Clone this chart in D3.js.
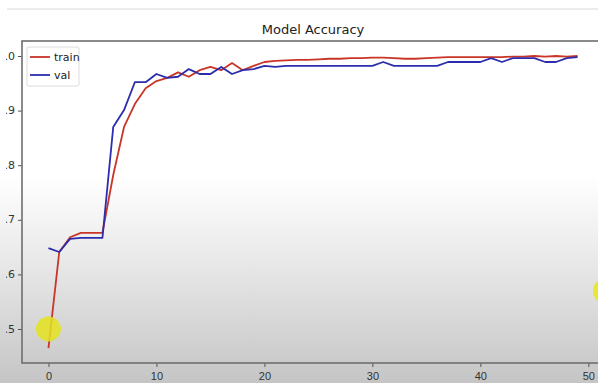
<!DOCTYPE html>
<html>
<head>
<meta charset="utf-8">
<script src="https://cdn.jsdelivr.net/npm/d3@7"></script>
<style>
  body { margin: 0; overflow: hidden; }
  svg { display: block; font-family: "DejaVu Sans", sans-serif; }
</style>
</head>
<body>
<div id="chart"></div>
<script>
// accuracy per epoch
var trainAcc = [0.465, 0.641, 0.668, 0.676, 0.676, 0.676, 0.782, 0.870, 0.912, 0.941,
                0.954, 0.960, 0.970, 0.962, 0.974, 0.980, 0.974, 0.987, 0.974, 0.982,
                0.989, 0.991, 0.992, 0.993, 0.993, 0.994, 0.995, 0.995, 0.996, 0.996,
                0.997, 0.997, 0.996, 0.995, 0.995, 0.996, 0.997, 0.998, 0.998, 0.998,
                0.998, 0.998, 0.998, 0.999, 0.999, 1.000, 0.999, 1.000, 0.999, 1.000]
var valAcc = [0.648, 0.641, 0.665, 0.667, 0.667, 0.667, 0.870, 0.901, 0.952, 0.952,
              0.967, 0.960, 0.962, 0.976, 0.967, 0.967, 0.980, 0.967, 0.974, 0.976,
              0.982, 0.980, 0.982, 0.982, 0.982, 0.982, 0.982, 0.982, 0.982, 0.982,
              0.982, 0.989, 0.982, 0.982, 0.982, 0.982, 0.982, 0.989, 0.989, 0.989,
              0.989, 0.996, 0.989, 0.996, 0.996, 0.996, 0.989, 0.989, 0.996, 0.998]
var xTicks = [0, 10, 20, 30, 40, 50]
var yTicks = [0.5, 0.6, 0.7, 0.8, 0.9, 1.0]
var seriesNames = ['train', 'val']
var seriesColors = ['#c93526', '#2c2cae']

var W = 598, H = 383
var plot = {left: 22, right: 604, top: 41, bottom: 363}

var svg = d3.select('#chart').append('svg')
    .attr('width', W)
    .attr('height', H)

// background, fading to grey at the bottom like the screenshot
var defs = svg.append('defs')
var grad = defs.append('linearGradient')
    .attr('id', 'bg').attr('x1', 0).attr('y1', 0).attr('x2', 0).attr('y2', 1)
grad.append('stop').attr('offset', '0%').attr('stop-color', '#ffffff')
grad.append('stop').attr('offset', '46%').attr('stop-color', '#ffffff')
grad.append('stop').attr('offset', '66%').attr('stop-color', '#ebebeb')
grad.append('stop').attr('offset', '100%').attr('stop-color', '#c5c5c5')

// the screenshot cuts the y labels on the left
defs.append('clipPath').attr('id', 'ylabclip')
    .append('rect').attr('x', 6).attr('y', 0).attr('width', 20).attr('height', H)

svg.append('rect')
    .attr('width', W).attr('height', H)
    .attr('fill', 'url(#bg)')

svg.append('line')
    .attr('x1', 7).attr('x2', W).attr('y1', 9).attr('y2', 9)
    .attr('stroke', '#e6e6e6').attr('stroke-width', 1.5)

// Scales
var xScale = d3.scaleLinear()
    .domain([-2.45, 51.45])
    .range([plot.left, plot.right])

var yScale = d3.scaleLinear()
    .domain([0.5, 1.0])
    .range([329, 56])

// X-axis
var xAxis = d3.axisBottom(xScale)
    .tickValues(xTicks)
    .tickSize(4)
    .tickPadding(5)
    .tickFormat(d3.format('d'))

var gx = svg.append('g')
    .attr('transform', 'translate(0,' + plot.bottom + ')')
    .call(xAxis)
gx.select('.domain').remove()
gx.selectAll('line').attr('stroke', '#555')
gx.selectAll('text').attr('fill', '#333').attr('font-size', 11)

// Y-axis
var yAxis = d3.axisLeft(yScale)
    .tickValues(yTicks)
    .tickSize(4)
    .tickFormat('')

var gy = svg.append('g')
    .attr('transform', 'translate(' + plot.left + ',0)')
    .call(yAxis)
gy.select('.domain').remove()
gy.selectAll('line').attr('stroke', '#555')

svg.append('g')
    .attr('clip-path', 'url(#ylabclip)')
    .selectAll('text')
    .data(yTicks)
    .enter()
    .append('text')
    .attr('x', plot.left - 7)
    .attr('y', function (d) { return yScale(d) })
    .attr('dy', '0.32em')
    .attr('text-anchor', 'end')
    .attr('fill', '#333')
    .attr('font-size', 11)
    .text(function (d) { return d3.format('.1f')(d) })

// frame
svg.append('rect')
    .attr('x', plot.left).attr('y', plot.top)
    .attr('width', plot.right - plot.left)
    .attr('height', plot.bottom - plot.top)
    .attr('fill', 'none')
    .attr('stroke', '#6e6e6e')
    .attr('stroke-width', 1.6)

// lines
var line = d3.line()
    .x(function (d, i) { return xScale(i) })
    .y(function (d) { return yScale(d) })

svg.selectAll('.acc')
    .data([trainAcc, valAcc])
    .enter()
    .append('path')
    .attr('class', 'acc')
    .attr('d', line)
    .attr('fill', 'none')
    .attr('stroke', function (d, i) { return seriesColors[i] })
    .attr('stroke-width', 1.8)
    .attr('stroke-linejoin', 'round')

// cursor highlights from the recording
svg.append('circle')
    .attr('cx', xScale(0)).attr('cy', yScale(0.5))
    .attr('r', 12.5)
    .attr('fill', '#e3e31e').attr('opacity', 0.85)
svg.append('circle')
    .attr('cx', 606).attr('cy', 291)
    .attr('r', 13)
    .attr('fill', '#e8e824').attr('opacity', 0.9)

// title
svg.append('text')
    .attr('x', 313)
    .attr('y', 34)
    .attr('text-anchor', 'middle')
    .attr('font-size', 13)
    .attr('fill', '#222')
    .text('Model Accuracy')

// legend
var legend = svg.append('g')
legend.append('rect')
    .attr('x', 27).attr('y', 47)
    .attr('width', 52).attr('height', 39)
    .attr('rx', 2)
    .attr('fill', '#ffffff').attr('fill-opacity', 0.85)
    .attr('stroke', '#dcdcdc')

var items = legend.selectAll('.item')
    .data(seriesNames)
    .enter()
    .append('g')
    .attr('transform', function (d, i) { return 'translate(0,' + (57 + i * 18) + ')' })
items.append('line')
    .attr('x1', 30).attr('x2', 50)
    .attr('stroke', function (d, i) { return seriesColors[i] })
    .attr('stroke-width', 1.8)
items.append('text')
    .attr('x', 54)
    .attr('dy', '0.35em')
    .attr('font-size', 11)
    .attr('fill', '#222')
    .text(function (d) { return d })
</script>
</body>
</html>
